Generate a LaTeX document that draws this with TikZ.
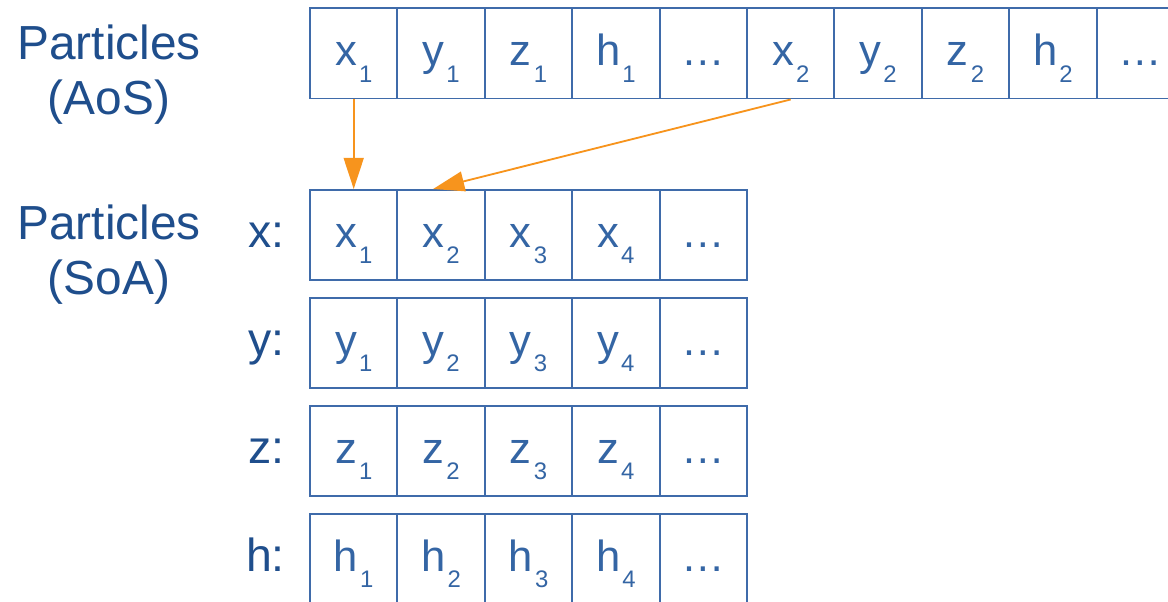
\documentclass[tikz,border=0pt]{standalone}
\usepackage{fontspec}
\setmainfont{Liberation Sans}
\usetikzlibrary{arrows.meta,positioning}

\definecolor{lblblue}{HTML}{1F4E8C}
\definecolor{cellblue}{HTML}{3465A4}
\definecolor{cellline}{HTML}{3F6BAA}
\definecolor{arrorange}{HTML}{F7941D}

% letter with a low, small index
\newcommand{\elem}[2]{#1\kern1.5pt\raisebox{-12pt}{\fontsize{17}{17}\selectfont #2}}

\begin{document}
\begin{tikzpicture}[
    x=0.025cm, y=-0.025cm,
    every node/.style={font=\fontsize{31}{36}\selectfont},
    cell/.style={draw=cellline, line width=1.4pt, minimum width=2.185cm, minimum height=2.25cm,
        inner sep=0pt, text=cellblue, text height=0.6cm, text depth=0cm},
    rowlabel/.style={text=lblblue, inner sep=0pt, text height=0.6cm, text depth=0cm,
        font=\fontsize{33}{38}\selectfont},
    grouplabel/.style={text=lblblue, align=center, inner sep=0pt, font=\fontsize{34}{39}\selectfont},
    move/.style={draw=arrorange, line width=1.3pt, -{Triangle[length=0.78cm, width=0.5cm]}}
]
\useasboundingbox (0,0) rectangle (1168,602);

\node[grouplabel] (aoslabel) at (109,75) {Particles\\(AoS)};
\node[grouplabel] (soalabel) at (109,255) {Particles\\(SoA)};

% array of structures
\foreach \t [count=\i] in {{\elem{x}{1}}, {\elem{y}{1}}, {\elem{z}{1}}, {\elem{h}{1}}, {…},
                           {\elem{x}{2}}, {\elem{y}{2}}, {\elem{z}{2}}, {\elem{h}{2}}, {…}} {
    \node[cell] (aos\i) at ({310+87.4*(\i-1)+43.7}, 53.5) {\t};
}

% structure of arrays
\foreach \v [count=\j] in {x, y, z, h} {
    \foreach \k in {1,...,4} {
        \node[cell] (s\v\k) at ({310+87.4*(\k-1)+43.7}, {235+108*(\j-1)}) {\elem{\v}{\k}};
    }
    \node[cell] (s\v5) at ({310+87.4*4+43.7}, {235+108*(\j-1)}) {…};
    \node[rowlabel, anchor=east, left=0.6cm of s\v1] (\v label) {\v:};
}

\draw[move] (aos1.south) -- (sx1.north);
\draw[move] (aos6.south) -- ([xshift=-0.2cm]sx2.north);
\end{tikzpicture}
\end{document}
